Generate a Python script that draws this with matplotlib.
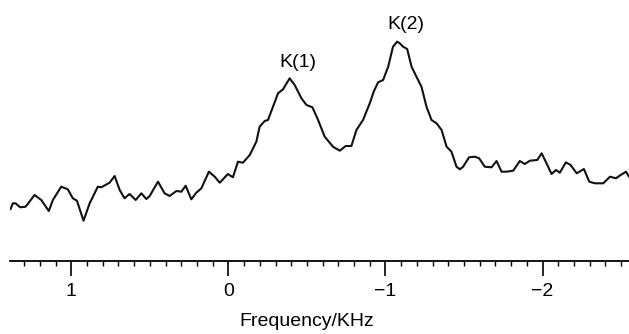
import numpy as np
import matplotlib
matplotlib.use("Agg")
import matplotlib.pyplot as plt
from matplotlib.ticker import MultipleLocator

# Spectrum (frequency in KHz, intensity in arbitrary units)
freq = [
    1.387, 1.372, 1.355, 1.325, 1.291, 1.266, 1.234, 1.191, 1.143, 1.117,
    1.064, 1.022, 0.990, 0.964, 0.922, 0.883, 0.831, 0.809, 0.756, 0.724,
    0.692, 0.661, 0.629, 0.590, 0.554, 0.522, 0.501, 0.448, 0.406, 0.374,
    0.331, 0.299, 0.272, 0.236, 0.204, 0.172, 0.124, 0.087, 0.055, 0.003,
    -0.029, -0.061, -0.093, -0.136, -0.178, -0.199, -0.231, -0.252, -0.284, -0.316,
    -0.348, -0.390, -0.422, -0.465, -0.497, -0.535, -0.571, -0.613, -0.666, -0.709,
    -0.747, -0.783, -0.815, -0.857, -0.900, -0.925, -0.953, -0.985, -1.017, -1.048,
    -1.074, -1.091, -1.112, -1.138, -1.166, -1.197, -1.229, -1.261, -1.293, -1.325,
    -1.357, -1.389, -1.420, -1.452, -1.473, -1.494, -1.532, -1.569, -1.596, -1.632,
    -1.675, -1.707, -1.739, -1.771, -1.813, -1.855, -1.887, -1.919, -1.966, -1.994,
    -2.025, -2.057, -2.085, -2.110, -2.148, -2.178, -2.217, -2.263, -2.297, -2.333,
    -2.386, -2.429, -2.467, -2.497, -2.531, -2.550,
]
intensity = [
    11.7, 17.7, 17.7, 13.7, 14.3, 19.3, 26.0, 21.0, 10.0, 21.0,
    34.3, 31.7, 22.7, 20.3, 0.3, 17.7, 34.3, 33.7, 38.3, 45.0,
    31.0, 22.7, 27.0, 21.0, 27.7, 22.0, 25.0, 39.3, 27.7, 25.0,
    30.0, 29.3, 35.3, 21.7, 28.3, 32.7, 49.3, 44.3, 38.3, 47.0,
    43.7, 59.3, 58.3, 66.0, 79.3, 94.3, 100.0, 101.0, 114.3, 127.7,
    131.7, 142.7, 136.0, 122.7, 116.0, 113.7, 101.0, 84.3, 74.3, 70.3,
    75.0, 75.0, 91.0, 101.0, 117.7, 129.3, 138.7, 141.0, 154.3, 174.3,
    179.3, 177.7, 174.3, 172.0, 154.3, 144.3, 134.3, 114.3, 101.0, 97.7,
    91.0, 74.3, 69.3, 54.3, 51.7, 54.3, 63.7, 64.3, 62.7, 54.3,
    53.7, 60.0, 49.3, 49.3, 50.3, 60.0, 57.0, 60.3, 61.0, 67.7,
    57.7, 47.0, 51.0, 48.3, 58.7, 56.0, 47.7, 52.0, 39.3, 37.7,
    37.7, 44.3, 42.7, 46.0, 49.3, 44.3,
]

peak_labels = ["K(1)", "K(2)"]
peak_ranges = [(-0.2, -0.6), (-0.9, -1.3)]
label_offsets = [(6, 11.5), (6.3, 12.5)]

freq = np.array(freq)
intensity = np.array(intensity)

plt.rcParams["font.family"] = ["Liberation Sans", "DejaVu Sans"]
FS = 14

fig = plt.figure(figsize=(6.29, 3.34), dpi=100)
ax = fig.add_axes([10 / 629, 73 / 334, 619 / 629, 241 / 334])

ax.plot(freq, intensity, color="#111111", linewidth=1.5,
        solid_joinstyle="round", solid_capstyle="round")

# label the two peaks
for label, (hi, lo), off in zip(peak_labels, peak_ranges, label_offsets):
    mask = (freq <= hi) & (freq >= lo)
    i = np.argmax(intensity[mask])
    ax.annotate(label, xy=(freq[mask][i], intensity[mask][i]),
                xytext=off, textcoords="offset points",
                ha="center", va="center", fontsize=FS)

ax.set_xlim(1.39, -2.55)
ax.set_ylim(-40, 201)

for side in ["top", "left", "right"]:
    ax.spines[side].set_visible(False)
ax.spines["bottom"].set_linewidth(1.3)
ax.set_yticks([])

ax.xaxis.set_major_locator(MultipleLocator(1))
ax.xaxis.set_minor_locator(MultipleLocator(0.1))
ax.set_xticks([1, 0, -1, -2])
ax.set_xticklabels(["1", "0", "\u22121", "\u22122"])
ax.tick_params(axis="x", which="major", direction="out", length=11, width=1.2,
               labelsize=FS, pad=4.5)
ax.tick_params(axis="x", which="minor", direction="out", length=3.5, width=1.0)
ax.set_xlabel("Frequency/KHz", fontsize=FS)
ax.xaxis.set_label_coords(0.48, -0.215)
ax.xaxis.label.set_va("top")

fig.savefig("out.png", dpi=100)
